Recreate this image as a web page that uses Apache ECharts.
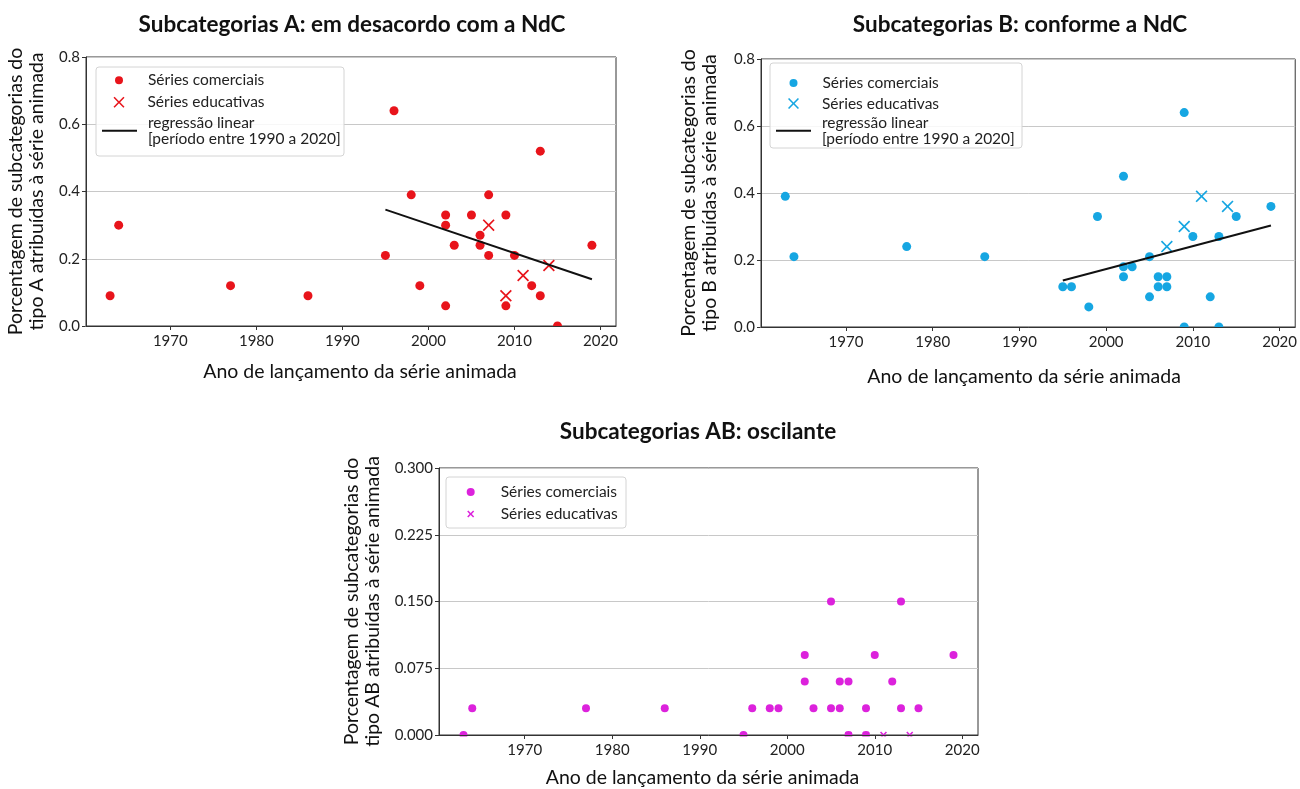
<!DOCTYPE html>
<html><head><meta charset="utf-8">
<script src="https://cdn.jsdelivr.net/npm/echarts@6/dist/echarts.min.js"></script>
<style>html,body{margin:0;padding:0;background:#fff;}#c{width:1300px;height:789px;}</style>
</head><body><div id="c"></div>
<script>
// ---------- DATA ----------
const xTickYears = [1970, 1980, 1990, 2000, 2010, 2020];
const yTicksAB = [0, 0.2, 0.4, 0.6, 0.8];
const yTicksC = [0, 0.075, 0.15, 0.225, 0.3];

const aComYears = [1963,1964,1977,1986,1995,1996,1998,1999,2002,2002,2002,2003,2005,2006,2006,2007,2007,2009,2009,2010,2012,2013,2013,2015,2019];
const aComVals  = [0.09,0.30,0.12,0.09,0.21,0.64,0.39,0.12,0.33,0.30,0.06,0.24,0.33,0.27,0.24,0.39,0.21,0.33,0.06,0.21,0.12,0.52,0.09,0.00,0.24];
const aEduYears = [2007,2009,2011,2014];
const aEduVals  = [0.30,0.09,0.15,0.18];
const aRegYears = [1995,2019];
const aRegVals  = [0.346,0.139];

const bComYears = [1963,1964,1977,1986,1995,1996,1998,1999,2002,2002,2002,2003,2005,2005,2006,2006,2007,2007,2009,2009,2010,2012,2013,2013,2015,2019];
const bComVals  = [0.39,0.21,0.24,0.21,0.12,0.12,0.06,0.33,0.45,0.18,0.15,0.18,0.21,0.09,0.15,0.12,0.15,0.12,0.64,0.00,0.27,0.09,0.27,0.00,0.33,0.36];
const bEduYears = [2007,2009,2011,2014];
const bEduVals  = [0.24,0.30,0.39,0.36];
const bRegYears = [1995,2019];
const bRegVals  = [0.139,0.303];

const cComYears = [1963,1964,1977,1986,1995,1996,1998,1999,2002,2002,2003,2005,2005,2006,2006,2007,2007,2009,2009,2010,2012,2013,2013,2015,2019];
const cComVals  = [0.00,0.03,0.03,0.03,0.00,0.03,0.03,0.03,0.09,0.06,0.03,0.15,0.03,0.06,0.03,0.06,0.00,0.03,0.00,0.09,0.06,0.15,0.03,0.03,0.09];
const cEduYears = [2007,2009,2011,2014];
const cEduVals  = [0.00,0.00,0.00,0.00];

const titles = ['Subcategorias A: em desacordo com a NdC','Subcategorias B: conforme a NdC','Subcategorias AB: oscilante'];
const xName = 'Ano de lançamento da série animada';
const yNames = ['Porcentagem de subcategorias do\ntipo A atribuídas à série animada',
                'Porcentagem de subcategorias do\ntipo B atribuídas à série animada',
                'Porcentagem de subcategorias do\ntipo AB atribuídas à série animada'];
const legendLabels = ['Séries comerciais','Séries educativas','regressão linear\n[período entre 1990 a 2020]'];

// ---------- STYLE / LAYOUT ----------
const FONT = 'Lato';
const X_PATH = 'path://M0,0.1L0.1,0L0.5,0.4L0.9,0L1,0.1L0.6,0.5L1,0.9L0.9,1L0.5,0.6L0.1,1L0,0.9L0.4,0.5Z';
const X_PATH_T = 'path://M0,0.16L0.16,0L0.5,0.34L0.84,0L1,0.16L0.66,0.5L1,0.84L0.84,1L0.5,0.66L0.16,1L0,0.84L0.34,0.5Z';
const LINE_ICON = 'path://M0,0L35,0L35,2L0,2Z';

function pts(xs, ys) { return xs.map((x, i) => [x, ys[i]]); }

const panels = [
  { key:'A', color:'#e8141b', grid:{left:86, top:57, width:530, height:269}, yMax:0.8, yInt:0.2, dec:1, yTicks:yTicksAB,
    com:pts(aComYears,aComVals), edu:pts(aEduYears,aEduVals), reg:pts(aRegYears,aRegVals),
    dot:9, xs:12, xPath:X_PATH, title:[352,13], yGap:38.5, xGap:36, xShift:18,
    leg:{ rows:[{left:115, w:8, top:72.25, pad:20}, {left:113.5, w:11, top:94.25, pad:18}, {left:102, w:35, top:115, pad:6}],
          box:[96,67,248,89] } },
  { key:'B', color:'#16a6e2', grid:{left:761, top:59, width:537, height:268}, yMax:0.8, yInt:0.2, dec:1, yTicks:yTicksAB,
    com:pts(bComYears,bComVals), edu:pts(bEduYears,bEduVals), reg:pts(bRegYears,bRegVals),
    dot:9, xs:12, xPath:X_PATH, title:[1020,13], yGap:40.5, xGap:40, xShift:-8,
    leg:{ rows:[{left:789.5, w:8, top:75, pad:20}, {left:788, w:11, top:95.5, pad:18}, {left:776, w:35, top:115, pad:6}],
          box:[770,63,252,85] } },
  { key:'C', color:'#dc22dc', grid:{left:439, top:468, width:539, height:268}, yMax:0.3, yInt:0.075, dec:3, yTicks:yTicksC,
    com:pts(cComYears,cComVals), edu:pts(cEduYears,cEduVals), reg:null,
    dot:8, xs:7, xPath:X_PATH_T, title:[698,420], yGap:55.5, xGap:33, xShift:-12,
    leg:{ rows:[{left:466.7, w:8, top:484, pad:21}, {left:467.2, w:7, top:506, pad:21.5}],
          box:[446,477,180,51] } }
];

const option = { animation:false, backgroundColor:'#fff', title:[], grid:[], xAxis:[], yAxis:[], series:[], legend:[], graphic:[] };
const nameMap = {};

panels.forEach((p, i) => {
  option.title.push({ text:titles[i], left:p.title[0], top:p.title[1], textAlign:'center', padding:0,
    textStyle:{ fontFamily:FONT, fontSize:22.5, fontWeight:'bold', color:'#111' } });
  option.grid.push(Object.assign({ show:true, borderColor:'#333', borderWidth:1, backgroundColor:'transparent', containLabel:false }, p.grid));
  option.xAxis.push({ gridIndex:i, type:'value', min:1960.2, max:2021.8, z:5,
    name:xName, nameLocation:'middle', nameGap:p.xGap,
    nameTextStyle:{ fontFamily:FONT, fontSize:19.5, color:'#111', padding:[0,0,0,p.xShift] },
    axisLine:{ show:true, onZero:false, lineStyle:{ color:'#333' } },
    axisTick:{ show:true, length:4, lineStyle:{ color:'#333' }, customValues:xTickYears },
    axisLabel:{ fontFamily:FONT, fontSize:15, color:'#222', margin:8, customValues:xTickYears, formatter:v => String(v) },
    splitLine:{ show:false } });
  option.yAxis.push({ gridIndex:i, type:'value', min:0, max:p.yMax, interval:p.yInt,
    name:yNames[i], nameLocation:'middle', nameRotate:90, nameGap:p.yGap,
    nameTextStyle:{ fontFamily:FONT, fontSize:19.5, color:'#111', lineHeight:21 },
    axisLine:{ show:true, lineStyle:{ color:'#333' } },
    axisTick:{ show:true, length:4, lineStyle:{ color:'#333' } },
    axisLabel:{ fontFamily:FONT, fontSize:15, color:'#222', margin:6, formatter:v => {
      const t = p.yTicks.find(q => Math.abs(q - v) < 1e-9); return (t === undefined ? v : t).toFixed(p.dec); } },
    splitLine:{ show:true, lineStyle:{ color:'#c8c8c8', width:1 } } });

  const nCom = p.key + ':com', nEdu = p.key + ':edu', nReg = p.key + ':reg';
  nameMap[nCom] = legendLabels[0]; nameMap[nEdu] = legendLabels[1]; nameMap[nReg] = legendLabels[2];

  option.series.push({ name:nCom, type:'scatter', xAxisIndex:i, yAxisIndex:i, data:p.com,
    symbol:'circle', symbolSize:p.dot, itemStyle:{ color:p.color, opacity:1 }, z:2 });
  option.series.push({ name:nEdu, type:'scatter', xAxisIndex:i, yAxisIndex:i, data:p.edu,
    symbol:p.xPath, symbolSize:p.xs, itemStyle:{ color:p.color, opacity:1 }, z:2 });
  if (p.reg) {
    option.series.push({ name:nReg, type:'line', xAxisIndex:i, yAxisIndex:i, data:p.reg,
      showSymbol:false, symbol:'none', lineStyle:{ color:'#111', width:2 }, itemStyle:{ color:'#111' }, z:3 });
  }

  const icons = [
    { name:nCom, icon:'circle', itemStyle:{ color:p.color }, h:8 },
    { name:nEdu, icon:p.xPath, itemStyle:{ color:p.color }, h:null },
    { name:nReg, icon:LINE_ICON, itemStyle:{ color:'#111' }, h:2 }
  ];
  p.leg.rows.forEach((r, k) => {
    const it = icons[k];
    option.legend.push({ orient:'vertical', left:r.left, top:r.top, itemWidth:r.w, itemHeight:(it.h === null ? r.w : it.h),
      padding:0, z:12, selectedMode:false, formatter:n => nameMap[n],
      textStyle:{ fontFamily:FONT, fontSize:15.5, color:'#222', lineHeight:15.5, padding:[0,0,0,r.pad] },
      data:[{ name:it.name, icon:it.icon, itemStyle:it.itemStyle }] });
  });

  // legend frame
  const b = p.leg.box;
  option.graphic.push({ type:'rect', z:11, shape:{ x:b[0], y:b[1], width:b[2], height:b[3], r:3 },
    style:{ fill:'rgba(255,255,255,0.85)', stroke:'#d4d4d4', lineWidth:1 } });
  // clip markers below the bottom axis line (as in the reference)
  option.graphic.push({ type:'rect', z:4, shape:{ x:p.grid.left - 1, y:p.grid.top + p.grid.height + 0.5, width:p.grid.width + 2, height:6 },
    style:{ fill:'#fff' } });
});

const chart = echarts.init(document.getElementById('c'), null, { renderer:'canvas' });
chart.setOption(option);
</script></body></html>
